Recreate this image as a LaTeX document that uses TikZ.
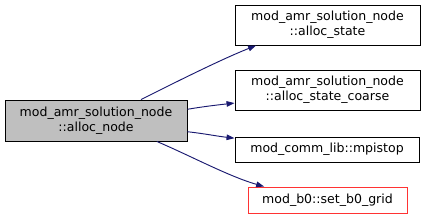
\documentclass[tikz,border=0pt]{standalone}
\usepackage{fontspec}
\setmainfont{DejaVu Sans}
\usetikzlibrary{arrows.meta}
\definecolor{Edge}{HTML}{191970}
\definecolor{Root}{HTML}{BFBFBF}
\definecolor{Trunc}{HTML}{FF3333}
\tikzset{
  >={Triangle[length=6pt,width=4.2pt]},
  fn/.style={draw=black,line width=.7pt,fill=white,inner sep=1pt,align=center,
    font=\fontsize{9.4}{11}\selectfont},
  fnroot/.style={fn,fill=Root},
  fntrunc/.style={fn,draw=Trunc},
  call/.style={->,draw=Edge,fill=none,line width=.7pt}
}
\begin{document}
\begin{tikzpicture}[x=0.75pt,y=-0.75pt]
  \useasboundingbox (0,0) rectangle (424,219);
  \node[fnroot,minimum width=182*0.75pt,minimum height=41*0.75pt] (root) at (96,120.5)
    {mod\_amr\_solution\_node\\::alloc\_node};
  \node[fn,minimum width=185*0.75pt,minimum height=40*0.75pt] (state) at (327.5,25)
    {mod\_amr\_solution\_node\\::alloc\_state};
  \node[fn,minimum width=185*0.75pt,minimum height=40*0.75pt] (coarse) at (327.5,90)
    {mod\_amr\_solution\_node\\::alloc\_state\_coarse};
  \node[fn,minimum width=184*0.75pt,minimum height=25*0.75pt] (stop) at (327,149.5)
    {mod\_comm\_lib::mpistop};
  \node[fntrunc,minimum width=159*0.75pt,minimum height=26*0.75pt] (grid) at (327.5,200)
    {mod\_b0::set\_b0\_grid};
  % calls
  \draw[call] (root.25) .. controls +(40,-20) and +(-35,14) .. (state.196);
  \draw[call] (root.7) .. controls +(18,-3) and +(-18,2) .. (coarse.188);
  \draw[call] (root.-7) .. controls +(18,2) and +(-18,-2) .. (stop.173);
  \draw[call] (root.-19) .. controls +(35,15) and +(-35,-10) .. (grid.168);
\end{tikzpicture}
\end{document}
